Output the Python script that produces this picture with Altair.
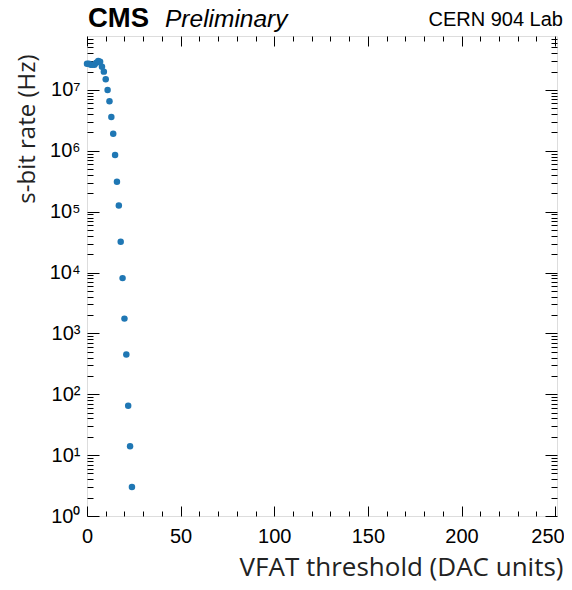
import altair as alt
import pandas as pd

# VFAT threshold (DAC units) and s-bit rate (Hz)
threshold = [0, 1, 2, 3, 4, 5, 6, 7, 8, 9, 10, 11, 12, 13, 14, 15, 16, 17, 18,
             19, 20, 21, 22, 23, 24]
rate = [2.7e7, 2.7e7, 2.6e7, 2.6e7, 2.6e7, 2.8e7, 3.0e7, 2.9e7, 2.4e7, 2.0e7,
        1.5e7, 1.0e7, 6.5e6, 3.6e6, 1.9e6, 8.5e5, 3.1e5, 1.26e5, 3.2e4, 8.1e3,
        1.75e3, 450, 65, 14, 3]

x_major = [0, 50, 100, 150, 200, 250]
x_minor = [10, 20, 30, 40, 60, 70, 80, 90, 110, 120, 130, 140, 160, 170, 180,
           190, 210, 220, 230, 240]
y_major = [1, 10, 100, 1e3, 1e4, 1e5, 1e6, 1e7]
mantissas = [2, 3, 4, 5, 6, 7, 8, 9]
y_minor = [m * d for d in y_major for m in mantissas if m * d < 7.7e7]

df = pd.DataFrame({"threshold": threshold, "rate": rate})
one = pd.DataFrame({"k": [0]})

W, H = 470, 480
xs = alt.Scale(domain=[0, 251], nice=False, zero=False)
ys = alt.Scale(type="log", domain=[1, 7.7e7], nice=False)

sup = "['\u2070','\u00b9','\u00b2','\u00b3','\u2074','\u2075','\u2076','\u2077','\u2078']"
ylabel = "'10' + " + sup + "[round(log(datum.value)/LN10)]"

LF = "Liberation Sans"
TF = "Open Sans"


def ax(orient, values, size, labels=False, **kw):
    return alt.Axis(orient=orient, values=values, tickSize=alt.ExprRef(expr=str(-size)),
                    tickColor="black", tickWidth=1, domain=False, grid=False,
                    labels=labels, title=None if "title" not in kw else kw.pop("title"),
                    **kw)


def layer(xaxis, yaxis, opacity):
    return alt.Chart(df).mark_circle(size=42, color="#1f77b4", opacity=opacity).encode(
        x=alt.X("threshold:Q", scale=xs, axis=xaxis),
        y=alt.Y("rate:Q", scale=ys, axis=yaxis),
    )


main = layer(
    ax("bottom", x_major, 10, labels=True, labelFont=LF, labelFontSize=20,
       labelColor="black", labelPadding=20, labelFlush=False,
       labelAlign={"condition": {"test": "datum.value == 250", "value": "right"}, "value": "center"},
       labelOffset={"condition": {"test": "datum.value == 250", "value": 9}, "value": 0},
       title="VFAT threshold (DAC units)", titleFont=TF, titleFontSize=26,
       titleFontWeight="normal", titleColor="#222222", titleX=W + 6, titleY=59,
       titleAlign="right", titleBaseline="alphabetic", titleAngle=0),
    ax("left", y_major, 12, labels=True, labelFont=LF, labelFontSize=20,
       labelColor="black", labelPadding=19, labelExpr=ylabel,
       title="s-bit rate (Hz)", titleFont=TF, titleFontSize=24,
       titleFontWeight="normal", titleColor="#222222", titleX=-60, titleY=18,
       titleAlign="right", titleBaseline="middle", titleAngle=270),
    1,
)
mirror = layer(ax("top", x_major, 10), ax("right", y_major, 12), 0)
minor1 = layer(ax("bottom", x_minor, 5), ax("left", y_minor, 6), 0)
minor2 = layer(ax("top", x_minor, 5), ax("right", y_minor, 6), 0)

t_cms = alt.Chart(one).mark_text(text="CMS", font=LF, fontSize=27.5, fontWeight="bold",
                                 align="left", baseline="alphabetic", color="black").encode(
    x=alt.value(1), y=alt.value(-9))
t_pre = alt.Chart(one).mark_text(text="Preliminary", font=LF, fontSize=24.5, fontStyle="italic",
                                 align="left", baseline="alphabetic", color="black").encode(
    x=alt.value(78), y=alt.value(-9))
t_lab = alt.Chart(one).mark_text(text="CERN 904 Lab", font=LF, fontSize=20,
                                 align="right", baseline="alphabetic", color="black").encode(
    x=alt.value(W + 6), y=alt.value(-10))

chart = alt.layer(minor1, minor2, mirror, main, t_cms, t_pre, t_lab).resolve_axis(
    x="independent", y="independent"
).properties(
    width=W, height=H,
    autosize=alt.AutoSizeParams(type="none"),
    padding={"left": 79, "top": 28, "right": 7, "bottom": 66},
).configure_view(stroke="black", strokeWidth=2).configure(background="white")

chart.save("out.html", embed_options={"renderer": "svg", "actions": False})
